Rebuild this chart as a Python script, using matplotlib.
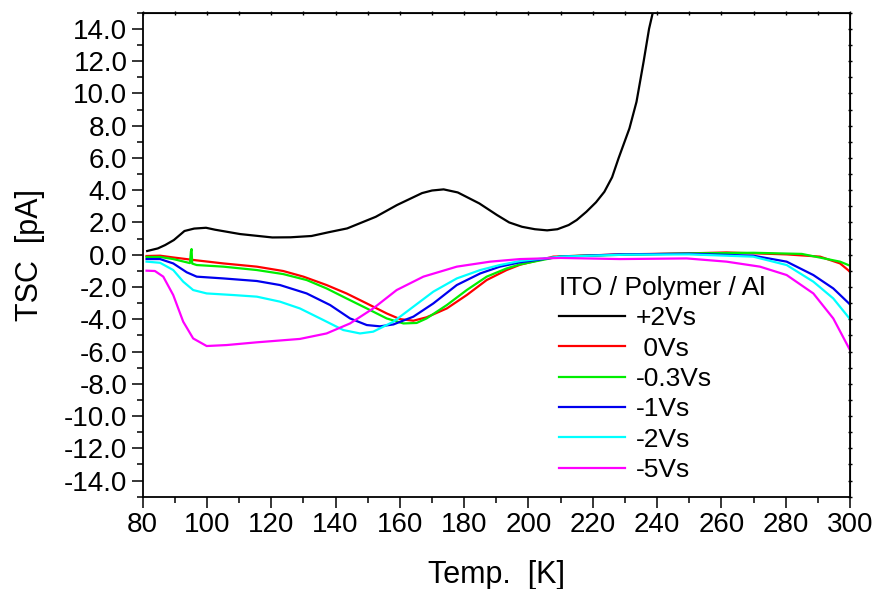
import numpy as np
import matplotlib.pyplot as plt
from matplotlib.ticker import MultipleLocator, FormatStrFormatter

plt.rcParams['font.family'] = ['Liberation Sans', 'DejaVu Sans']

# values (temperature in K, current in pA)
t_p2 = [81.4, 84.7, 87.0, 89.7, 93.0, 96.0, 99.7, 102.5, 110.3, 120.3, 126.0, 132.5, 138.0,
        143.6, 152.5, 159.1, 166.9, 170.0, 173.6, 178.0, 184.7, 190.2, 194.0, 198.0, 202.0,
        205.8, 209.0, 212.5, 215.0, 218.0, 221.0, 223.6, 226.0, 228.0, 231.4, 233.6, 235.8,
        237.5, 238.6, 240.0]
i_p2 = [0.23, 0.39, 0.6, 0.91, 1.47, 1.62, 1.67, 1.55, 1.28, 1.07, 1.08, 1.16, 1.4,
        1.63, 2.35, 3.08, 3.82, 3.98, 4.05, 3.86, 3.18, 2.46, 2.0, 1.73, 1.58,
        1.51, 1.58, 1.84, 2.15, 2.66, 3.25, 3.9, 4.8, 5.97, 7.83, 9.48, 11.96,
        14.0, 14.95, 16.5]

t_0 = [81.2, 85.4, 89.5, 96.8, 105.1, 115.5, 123.7, 130.0, 137.2, 143.4, 149.7, 155.9,
       160.0, 164.2, 168.3, 174.6, 180.8, 187.0, 193.2, 197.4, 207.7, 228.5, 249.2,
       261.6, 280.3, 290.7, 296.9, 300.0]
i_0 = [-0.08, -0.06, -0.17, -0.35, -0.54, -0.74, -1.01, -1.36, -1.88, -2.4, -3.02, -3.64,
       -3.99, -4.09, -3.88, -3.33, -2.5, -1.57, -0.95, -0.62, -0.12, 0.02, 0.08,
       0.14, 0.02, -0.12, -0.54, -1.05]

t_m03 = [81.2, 85.4, 89.5, 94.7, 95.0, 95.2, 95.4, 96.8, 105.1, 115.5, 123.7, 131.0, 137.2,
         143.4, 149.7, 155.9, 161.1, 165.2, 168.3, 174.6, 180.8, 187.0, 193.2, 197.4,
         210.0, 230.0, 250.0, 270.0, 285.0, 296.9, 300.0]
i_m03 = [-0.14, -0.14, -0.27, -0.52, 0.2, 0.35, -0.55, -0.64, -0.74, -0.95, -1.2, -1.57, -2.09,
         -2.71, -3.33, -3.95, -4.26, -4.23, -3.95, -3.12, -2.19, -1.36, -0.85, -0.6,
         -0.1, 0.0, 0.08, 0.12, 0.05, -0.43, -0.68]

t_m1 = [81.2, 85.4, 89.5, 93.7, 96.8, 105.1, 115.5, 122.7, 131.0, 138.3, 144.5, 149.7,
        153.8, 158.0, 164.2, 170.4, 177.7, 185.0, 191.1, 197.4, 210.0, 228.5, 250.0,
        269.9, 280.3, 288.6, 294.8, 300.0]
i_m1 = [-0.27, -0.27, -0.54, -1.09, -1.36, -1.47, -1.63, -1.88, -2.4, -3.12, -3.95, -4.36,
        -4.44, -4.32, -3.84, -3.02, -1.88, -1.16, -0.74, -0.47, -0.12, 0.02, 0.06,
        -0.06, -0.43, -1.26, -2.09, -3.08]

t_m2 = [81.2, 85.4, 89.5, 92.6, 95.7, 99.9, 108.2, 115.5, 122.7, 128.9, 136.2, 142.4,
        147.6, 151.7, 158.0, 164.2, 170.4, 177.7, 185.0, 191.1, 197.4, 210.0, 230.0,
        250.0, 269.9, 280.3, 288.6, 294.8, 300.0]
i_m2 = [-0.43, -0.5, -0.95, -1.67, -2.19, -2.4, -2.5, -2.6, -2.91, -3.33, -4.05, -4.67,
        -4.88, -4.77, -4.15, -3.22, -2.29, -1.47, -0.95, -0.64, -0.39, -0.12, 0.0,
        0.02, -0.12, -0.64, -1.67, -2.71, -3.99]

t_m5 = [81.2, 83.8, 86.4, 89.5, 92.6, 95.7, 99.9, 106.1, 115.5, 128.9, 137.2, 144.5,
        151.7, 159.0, 167.3, 177.7, 188.1, 197.4, 210.0, 228.5, 249.2, 261.6, 272.0,
        280.3, 288.6, 294.8, 300.0]
i_m5 = [-0.99, -1.01, -1.36, -2.5, -4.15, -5.19, -5.66, -5.6, -5.43, -5.22, -4.88, -4.26,
        -3.33, -2.19, -1.36, -0.74, -0.43, -0.27, -0.2, -0.27, -0.23, -0.43, -0.74,
        -1.26, -2.4, -3.95, -5.91]

labels = ['+2Vs', ' 0Vs', '-0.3Vs', '-1Vs', '-2Vs', '-5Vs']
colors = ['black', '#ff0000', '#00ee00', '#0000ee', '#00ffff', '#ff00ff']
series = [(t_p2, i_p2), (t_0, i_0), (t_m03, i_m03), (t_m1, i_m1), (t_m2, i_m2), (t_m5, i_m5)]

fig = plt.figure(figsize=(8.77, 5.89), dpi=100)
ax = fig.add_axes([0.1627, 0.1567, 0.8065, 0.8217])

for (t, i), lab, c in zip(series, labels, colors):
    ax.plot(t, i, color=c, lw=1.6, label=lab)

ax.set_xlim(80, 300)
ax.set_ylim(-15, 15)
ax.xaxis.set_major_locator(MultipleLocator(20))
ax.xaxis.set_minor_locator(MultipleLocator(10))
ax.yaxis.set_major_locator(MultipleLocator(2))
ax.yaxis.set_minor_locator(MultipleLocator(1))
ax.yaxis.set_major_formatter(FormatStrFormatter('%.1f'))
ax.set_yticks(np.arange(-14, 15, 2))

ax.tick_params(which='major', direction='out', length=8, width=1.1, labelsize=20, pad=3)
ax.tick_params(which='minor', direction='out', length=4, width=1.1)
for s in ax.spines.values():
    s.set_linewidth(1.3)

# small ticks on top and right
axr = ax.secondary_yaxis('right')
axr.yaxis.set_major_locator(MultipleLocator(1))
axr.tick_params(direction='inout', length=3, width=1.0, labelright=False)
axt = ax.secondary_xaxis('top')
axt.xaxis.set_major_locator(MultipleLocator(10))
axt.tick_params(direction='inout', length=3, width=1.0, labeltop=False)

ax.set_xlabel('Temp.  [K]', fontsize=22, labelpad=16)
ax.set_ylabel('TSC  [pA]', fontsize=22, labelpad=14)

leg = ax.legend(title='ITO / Polymer / Al', loc='upper left', bbox_to_anchor=(0.589, 0.456),
                frameon=False, fontsize=19, title_fontsize=19, handlelength=2.5,
                handletextpad=0.4, labelspacing=0.24, borderpad=0, borderaxespad=0,
                alignment='left')
for line in leg.get_lines():
    line.set_linewidth(1.6)

fig.savefig('out.png', dpi=100)
